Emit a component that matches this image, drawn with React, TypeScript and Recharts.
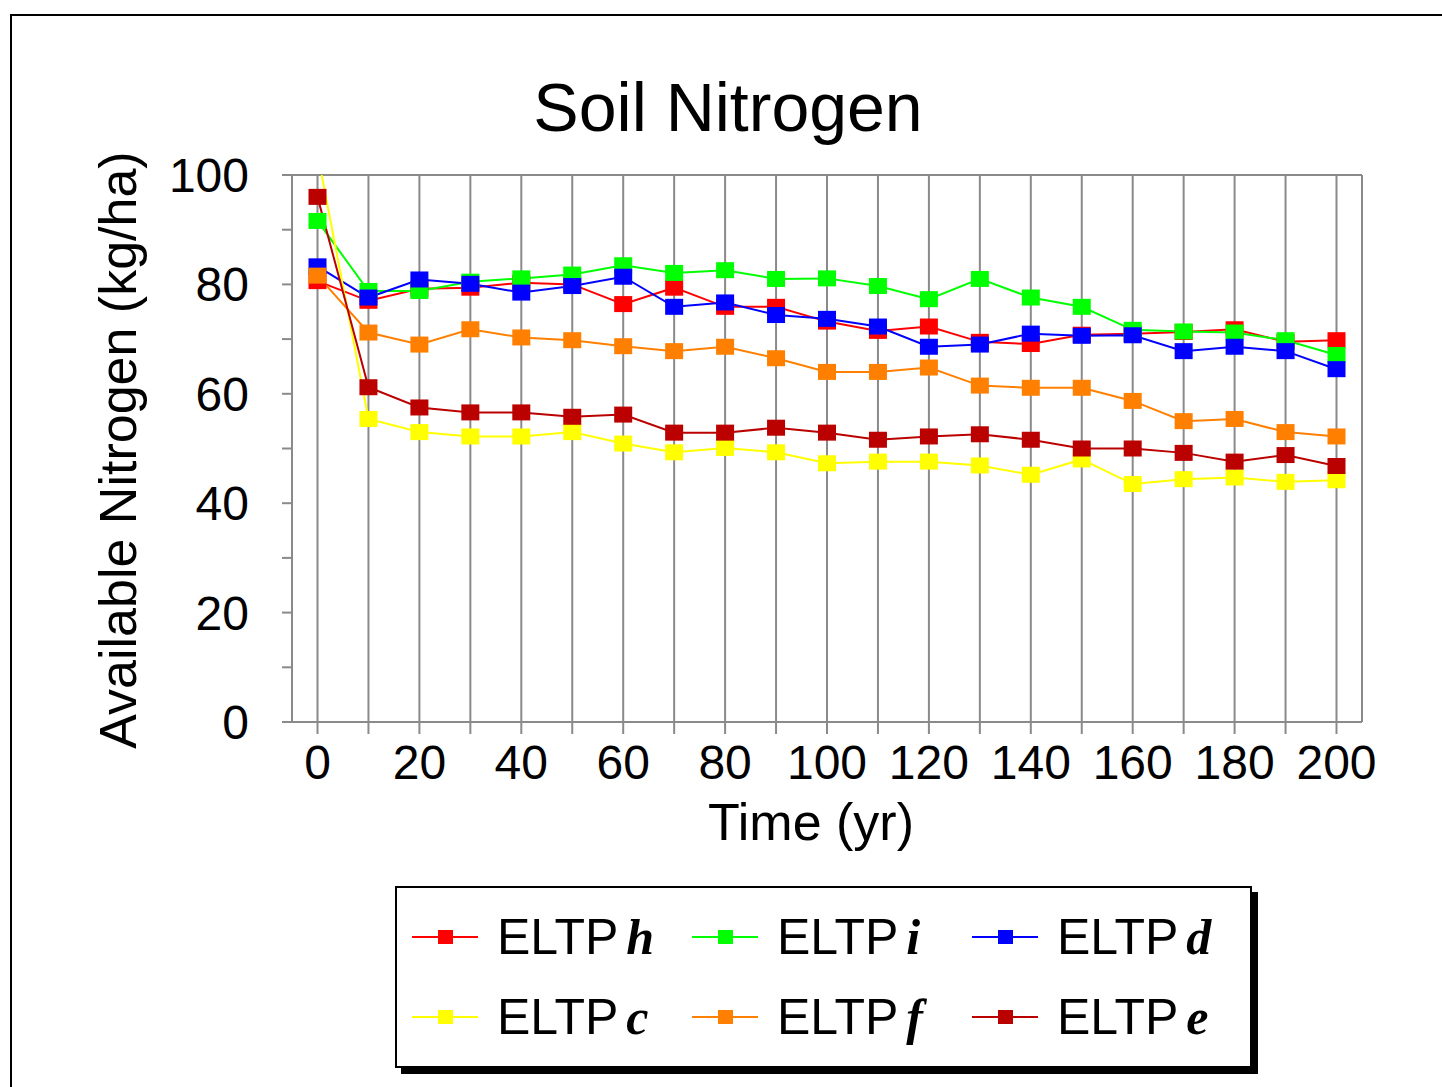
import { LineChart, Line, XAxis, YAxis, CartesianGrid } from 'recharts'

// time in years
const years = [0, 10, 20, 30, 40, 50, 60, 70, 80, 90, 100, 110, 120, 130, 140, 150, 160, 170, 180, 190, 200]

// available nitrogen (kg/ha) per treatment
const eltpH = [80.6, 77.0, 79.2, 79.4, 80.3, 80.0, 76.4, 79.4, 75.9, 75.9, 73.2, 71.5, 72.3, 69.5, 69.1, 70.8, 71.0, 71.3, 71.8, 69.5, 69.8]
const eltpI = [91.6, 78.8, 78.8, 80.5, 81.1, 81.8, 83.5, 82.1, 82.6, 81.0, 81.1, 79.7, 77.3, 81.0, 77.6, 75.9, 71.7, 71.4, 71.2, 69.8, 67.1]
const eltpD = [83.3, 77.6, 80.9, 80.1, 78.5, 79.7, 81.4, 75.9, 76.7, 74.4, 73.7, 72.3, 68.6, 69.0, 71.0, 70.6, 70.7, 67.8, 68.6, 67.8, 64.5]
const eltpC = [104, 55.4, 53.0, 52.2, 52.2, 53.0, 50.9, 49.3, 50.1, 49.3, 47.3, 47.6, 47.6, 46.9, 45.2, 48.0, 43.5, 44.4, 44.7, 43.9, 44.2]
const eltpF = [81.6, 71.2, 69.0, 71.8, 70.3, 69.8, 68.7, 67.8, 68.6, 66.5, 64.0, 64.0, 64.8, 61.5, 61.1, 61.1, 58.7, 55.0, 55.4, 53.0, 52.2]
const eltpE = [96.0, 61.2, 57.5, 56.6, 56.6, 55.8, 56.2, 52.9, 52.9, 53.8, 52.9, 51.6, 52.2, 52.6, 51.6, 50.0, 50.0, 49.2, 47.6, 48.8, 46.8]

const yTicks = [0, 10, 20, 30, 40, 50, 60, 70, 80, 90, 100]

const series = [
  { key: 'h', label: 'h', color: '#ff0000', values: eltpH },
  { key: 'i', label: 'i', color: '#00ff00', values: eltpI },
  { key: 'd', label: 'd', color: '#0000ff', values: eltpD },
  { key: 'c', label: 'c', color: '#ffff00', values: eltpC },
  { key: 'f', label: 'f', color: '#ff8000', values: eltpF },
  { key: 'e', label: 'e', color: '#bb0000', values: eltpE },
]

const data = years.map((t, i) => {
  const row: Record<string, number> = { t }
  series.forEach(s => { row[s.key] = s.values[i] })
  return row
})

const FONT = '"Liberation Sans", Arial, sans-serif'
const GRID = '#8a8a8a'

const squareDot = (color: string) => (props: any) => {
  const { cx, cy, index } = props
  if (cx == null || cy == null) return <g key={`d-${index}`} />
  return <rect key={`d-${index}`} x={cx - 9} y={cy - 8} width={18} height={16} fill={color} />
}

export default function App() {
  return (
    <div style={{ position: 'fixed', left: 0, top: 0, width: 1442, height: 1087, overflow: 'hidden', background: '#fff', fontFamily: FONT }}>
      <div style={{ position: 'absolute', left: 10, top: 14, width: 1500, height: 1200, border: '2px solid #000' }} />

      <div style={{ position: 'absolute', left: 0, top: 73, width: 1456, textAlign: 'center', fontSize: 68, lineHeight: 1, color: '#000' }}>
        Soil Nitrogen
      </div>

      <div style={{ position: 'absolute', left: 118 - 350, top: 450 - 26, width: 700, height: 52, textAlign: 'center', fontSize: 52, lineHeight: 1, transform: 'rotate(-90deg)', whiteSpace: 'nowrap' }}>
        Available Nitrogen (kg/ha)
      </div>

      <div style={{ position: 'absolute', left: 811 - 200, top: 796, width: 400, textAlign: 'center', fontSize: 52, lineHeight: 1 }}>
        Time (yr)
      </div>

      <div style={{ position: 'absolute', left: 0, top: 0 }}>
        <LineChart width={1442} height={1087} data={data} margin={{ top: 175, left: 192, right: 70, bottom: 0 }}>
          <CartesianGrid stroke={GRID} strokeWidth={2} />
          <XAxis
            dataKey="t"
            type="category"
            interval={0}
            height={365}
            padding={{ left: 25.5, right: 25.5 }}
            axisLine={false}
            tickLine={{ stroke: GRID, strokeWidth: 2 }}
            tickSize={12}
            tickMargin={11}
            tick={{ fill: '#000', fontSize: 48, fontFamily: FONT }}
            tickFormatter={(v: number) => (v % 20 === 0 ? String(v) : '')}
          />
          <YAxis
            yAxisId="left"
            width={100}
            domain={[0, 100]}
            allowDataOverflow
            ticks={yTicks}
            interval={0}
            axisLine={{ stroke: GRID, strokeWidth: 2 }}
            tickLine={{ stroke: GRID, strokeWidth: 2 }}
            tickSize={10}
            tickMargin={33}
            tick={{ fill: '#000', fontSize: 48, fontFamily: FONT }}
            tickFormatter={(v: number) => (v % 20 === 0 ? String(v) : '')}
          />
          <YAxis
            yAxisId="right"
            orientation="right"
            width={10}
            domain={[0, 100]}
            tick={false}
            tickLine={false}
            axisLine={{ stroke: GRID, strokeWidth: 2 }}
          />
          {series.map(s => (
            <Line
              key={s.key}
              yAxisId="left"
              type="linear"
              dataKey={s.key}
              stroke={s.color}
              strokeWidth={2}
              dot={squareDot(s.color)}
              activeDot={false}
              isAnimationActive={false}
            />
          ))}
        </LineChart>
      </div>

      <div style={{ position: 'absolute', left: 395, top: 886, width: 853, height: 178, border: '2px solid #000', background: '#fff', boxShadow: '6px 6px 0 #000' }} />
      {series.map((s, i) => {
        const col = i % 3
        const row = Math.floor(i / 3)
        const left = 412 + col * 280
        const cy = 937 + row * 80
        return (
          <div key={s.key} style={{ position: 'absolute', left, top: cy - 30, height: 60, display: 'flex', alignItems: 'center', whiteSpace: 'nowrap' }}>
            <svg width={66} height={20} style={{ marginRight: 19 }}>
              <line x1={0} y1={10} x2={66} y2={10} stroke={s.color} strokeWidth={2} />
              <rect x={26} y={3} width={15} height={14} fill={s.color} />
            </svg>
            <span style={{ fontSize: 50, lineHeight: 1 }}>ELTP</span>
            <span style={{ fontSize: 50, lineHeight: 1, marginLeft: 8, fontStyle: 'italic', fontWeight: 'bold', fontFamily: '"Liberation Serif", serif' }}>{s.label}</span>
          </div>
        )
      })}
    </div>
  )
}
